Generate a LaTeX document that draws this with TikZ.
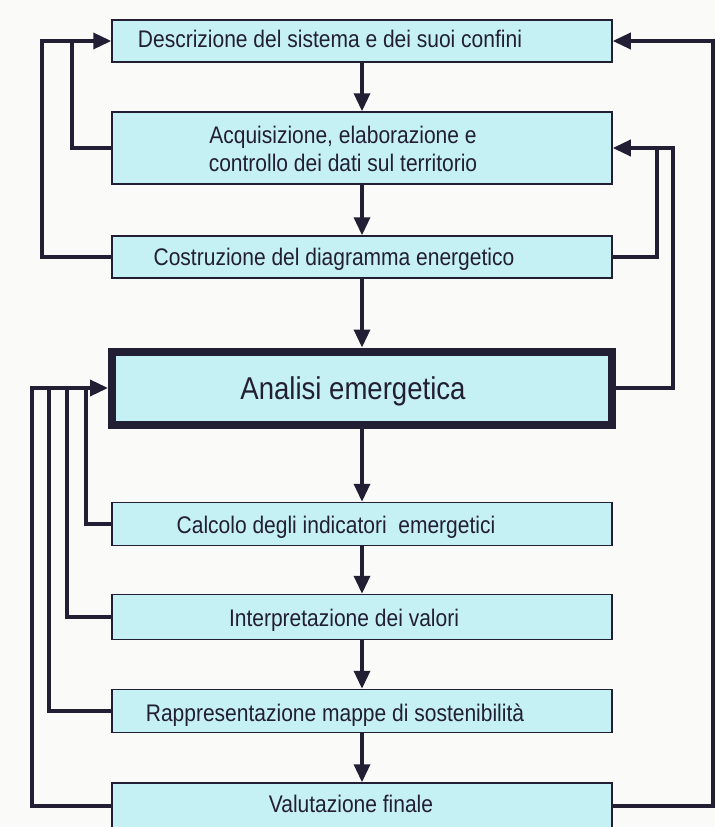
\documentclass[tikz,border=0pt]{standalone}
\usepackage{fontspec}
\setmainfont{Liberation Sans}[FakeStretch=0.875]
\usetikzlibrary{arrows.meta}
\definecolor{boxfill}{HTML}{C6F1F4}
\definecolor{ink}{HTML}{221E33}
\definecolor{bg}{HTML}{FAFAF8}
\begin{document}
\begin{tikzpicture}[x=1pt,y=-1pt,
 box/.style={draw=ink,line width=1.5pt,fill=boxfill,minimum width=500pt,inner sep=0pt},
 bigbox/.style={box,line width=8pt},
 lbl/.style={font=\fontsize{24}{28}\selectfont,text=ink,align=center,inner sep=0pt,anchor=base},
 lbltwo/.style={lbl,anchor=center},
 biglbl/.style={lbl,font=\fontsize{31.5}{36}\selectfont},
 conn/.style={draw=ink,line width=3.5pt},
 arr/.style={conn,-{Triangle[length=18pt,width=16pt]}},
]
\fill[bg] (0,0) rectangle (715,827);
\useasboundingbox (0,0) rectangle (715,827);
\clip (0,0) rectangle (715,827);

% boxes
\node[box,minimum height=42pt] (b1) at (362,41) {};
\node[box,minimum height=72pt] (b2) at (362,148) {};
\node[box,minimum height=42pt] (b3) at (362,257) {};
\node[bigbox,minimum height=73pt] (bA) at (362,388) {};
\node[box,minimum height=43pt] (b5) at (362,524) {};
\node[box,minimum height=45pt] (b6) at (362,617) {};
\node[box,minimum height=43pt] (b7) at (362,711) {};
\node[box,minimum height=46pt] (b8) at (362,806) {};

% texts
\node[lbl] (t1) at (330,47.5) {Descrizione del sistema e dei suoi confini};
\node[lbltwo] (t2) at (343,149) {Acquisizione, elaborazione e\\controllo dei dati sul territorio};
\node[lbl] (t3) at (334,265) {Costruzione del diagramma energetico};
\node[biglbl] (tA) at (353,399) {Analisi emergetica};
\node[lbl] (t5) at (336,533) {Calcolo degli indicatori\ \ emergetici};
\node[lbl] (t6) at (344,626) {Interpretazione dei valori};
\node[lbl] (t7) at (335,721) {Rappresentazione mappe di sostenibilità};
\node[lbl] (t8) at (351,812.5) {Valutazione finale};

% guide coordinates for loop lines
\coordinate (l1) at (42,0);
\coordinate (l2) at (72,0);
\coordinate (l3) at (32,0);
\coordinate (l4) at (49,0);
\coordinate (l5) at (67,0);
\coordinate (l6) at (86,0);
\coordinate (r1) at (713,0);
\coordinate (r2) at (673,0);
\coordinate (r3) at (657,0);

% main chain
\draw[arr] (b1.south) -- (b2.north);
\draw[arr] (b2.south) -- (b3.north);
\draw[arr] (b3.south) -- (bA.north);
\draw[arr] (bA.south) -- (b5.north);
\draw[arr] (b5.south) -- (b6.north);
\draw[arr] (b6.south) -- (b7.north);
\draw[arr] (b7.south) -- (b8.north);

% upper left feedback
\draw[arr] (b3.west) -- (b3.west -| l1) |- (b1.west);
\draw[conn] (b2.west) -| (l2 |- b1.west);

% right feedback
\draw[arr] (b8.east) -- (b8.east -| r1) |- (b1.east);
\draw[arr] (bA.east) -- (bA.east -| r2) |- (b2.east);
\draw[conn] (b3.east) -| (r3 |- b2.east);

% lower left feedback
\draw[arr] (b8.west) -- (b8.west -| l3) |- (bA.west);
\draw[conn] (b7.west) -| (l4 |- bA.west);
\draw[conn] (b6.west) -| (l5 |- bA.west);
\draw[conn] (b5.west) -| (l6 |- bA.west);
\end{tikzpicture}
\end{document}
